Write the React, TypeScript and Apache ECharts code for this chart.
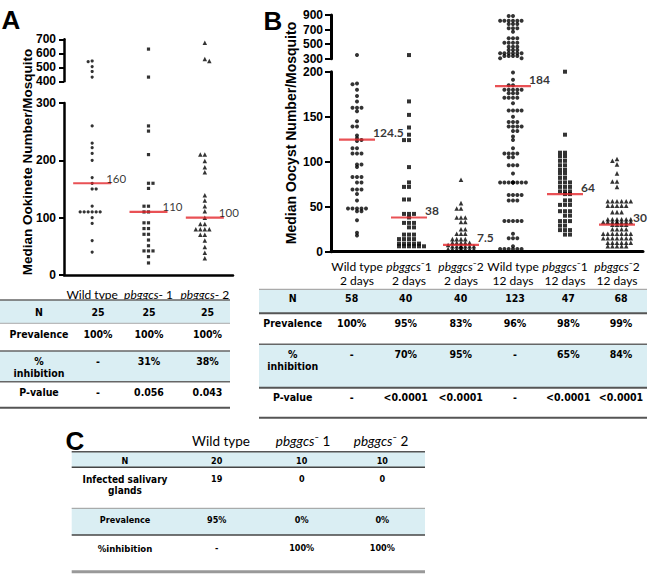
import React, { useEffect, useRef } from 'react';
import * as echarts from 'echarts';

// ---------------- Panel A data ----------------
const aCategories = ['Wild type', 'pbggcs- 1', 'pbggcs- 2'];
const aWildType = [545, 540, 505, 470, 430, 260, 230, 222, 212, 200, 170, 160, 150, 150, 120, 110, 110, 110, 110, 110, 110, 100, 90, 60, 40];
const aPbggcs1 = [630, 430, 260, 251, 210, 160, 160, 151, 120, 120, 110, 110, 91, 91, 81, 81, 71, 71, 61, 51, 42, 42, 42, 32, 21];
const aPbggcs2 = [676, 560, 545, 210, 210, 199, 188, 179, 139, 130, 120, 111, 100, 89, 89, 80, 80, 80, 80, 70, 70, 60, 49, 39, 29];
const aMedians = [160, 110, 100];
const aBottomTicks = [0, 300, 100];
const aTopTicks = [400, 700, 100];

const aRowLabels = ['N', 'Prevalence', '%\ninhibition', 'P-value'];
const aN = ['25', '25', '25'];
const aPrevalence = ['100%', '100%', '100%'];
const aInhibition = ['-', '31%', '38%'];
const aPValue = ['-', '0.056', '0.043'];

// ---------------- Panel B data ----------------
const bCategories = ['Wild type\n2 days', 'pbggcs⁻1\n2 days', 'pbggcs⁻2\n2 days', 'Wild type\n12 days', 'pbggcs⁻1\n12 days', 'pbggcs⁻2\n12 days'];
const bWildType2 = [350, 187, 186, 180, 173, 167, 160, 160, 160, 156, 145, 139, 139, 129, 126, 124, 123, 115, 115, 109, 109, 109, 97, 97, 94, 83, 83, 83, 77, 77, 69, 69, 69, 64, 57, 48, 48, 48, 48, 48, 45, 45, 35, 21, 18];
const bPbggcs1Day2 = [350, 167, 152, 138, 130, 124, 124, 94, 77, 72, 72, 58, 58, 42, 42, 42, 38, 32, 32, 32, 27, 27, 19, 19, 19, 14, 14, 14, 14, 9, 9, 9, 9, 9, 6, 6, 6, 6, 6, 6];
const bPbggcs2Day2 = [80, 54, 48, 48, 38, 38, 38, 33, 33, 25, 25, 20, 20, 20, 14, 14, 14, 14, 10, 10, 10, 10, 10, 7.5, 6, 6, 6, 6, 6, 6, 6, 6, 3, 3, 3, 3, 3, 3, 3, 3];
const bWildType12 = [
  886, 886, 822, 822, 822, 822, 822, 822, 776, 776, 776, 717, 717, 717, 671, 580, 580, 580, 520, 520, 520, 520,
  465, 465, 465, 420, 420, 420, 374, 374, 374, 374, 374, 374, 337, 337, 337, 337, 305, 305,
  199, 191, 185, 185, 180, 180, 180, 180, 180, 176, 176, 176, 171, 171, 171, 171, 165, 157, 157, 157, 157, 150,
  144, 144, 144, 139, 139, 139, 139, 134, 134, 128, 115, 124, 109, 109, 109, 109, 105, 105, 96, 96, 96, 87,
  77, 77, 77, 77, 77, 77, 77, 77, 77, 63, 63, 63, 63, 57, 57, 57, 34, 34, 34, 34, 34, 20, 15, 15, 15, 6,
  3, 3, 3, 3, 3, 3,
];
const bPbggcs1Day12 = [200, 130, 110, 110, 106, 106, 101, 101, 96, 96, 91, 91, 87, 87, 82, 82, 77, 77, 77, 72, 72, 72, 67, 67, 67, 64, 64, 57, 57, 52, 52, 52, 45, 45, 45, 40, 40, 34, 34, 34, 29, 29, 24, 24, 24, 19, 19];
const bPbggcs2Day12 = [
  103, 101, 97, 87, 78, 78, 72, 56, 56, 56, 56, 56, 56, 51, 51, 51, 51, 51, 44, 44, 44,
  36, 36, 36, 36, 36, 36, 33, 33, 33, 33, 33, 33, 33, 33, 30, 30, 30, 30, 25, 25, 25, 25,
  20, 20, 20, 20, 20, 20, 20, 15, 15, 15, 15, 15, 15, 15, 10, 10, 10, 10, 10, 10, 6, 6, 6, 6, 6,
];
const bMedians = [124.5, 38, 7.5, 184, 64, 30];
const bBottomTicks = [0, 200, 50];
const bTopTicks = [300, 900, 200];

const bRowLabels = ['N', 'Prevalence', '%\ninhibition', 'P-value'];
const bN = ['58', '40', '40', '123', '47', '68'];
const bPrevalence = ['100%', '95%', '83%', '96%', '98%', '99%'];
const bInhibition = ['-', '70%', '95%', '-', '65%', '84%'];
const bPValue = ['-', '<0.0001', '<0.0001', '-', '<0.0001', '<0.0001'];

// ---------------- Panel C data ----------------
const cColumns = ['Wild type', 'pbggcs⁻ 1', 'pbggcs⁻ 2'];
const cRowLabels = ['N', 'Infected salivary\nglands', 'Prevalence', '%inhibition'];
const cN = ['20', '10', '10'];
const cInfected = ['19', '0', '0'];
const cPrevalence = ['95%', '0%', '0%'];
const cInhibition = ['-', '100%', '100%'];

// ---------------- styling ----------------
const ARIAL = "'Liberation Sans', Arial, Helvetica, sans-serif";
const CAL = "Lato, 'Open Sans', 'Noto Sans', sans-serif";
const VERD = "'DejaVu Sans Condensed', 'DejaVu Sans', Verdana, sans-serif";
const BAND = '#DAEEF3';
const RED = '#e3262b';

const GA_TOP = { left: 64, top: 39.3, width: 169, height: 42 };
const GA_BOT = { left: 64, top: 103, width: 169, height: 172 };
const GB_TOP = { left: 331, top: 15, width: 312, height: 43.7 };
const GB_BOT = { left: 331, top: 71.7, width: 312, height: 180 };

// greedy beeswarm: horizontal offsets computed from the values' pixel positions
function swarm(vals: number[], ppu: number, gap: number, vgap: number, maxHalf: number) {
  const sorted = [...vals].sort((a, b) => b - a);
  const placed: { y: number; dx: number }[] = [];
  const out: { v: number; dx: number }[] = [];
  sorted.forEach((v, idx) => {
    const y = v * ppu;
    const near = placed.filter((p) => Math.abs(p.y - y) < vgap);
    let chosen = 0;
    for (let k = 0; k * gap <= maxHalf; k++) {
      const cands = k === 0 ? [0] : (idx % 2 === 0 ? [k * gap, -k * gap] : [-k * gap, k * gap]);
      const ok = cands.find((c) => near.every((p) => Math.abs(p.dx - c) >= gap - 0.01));
      if (ok !== undefined) { chosen = ok; break; }
    }
    placed.push({ y, dx: chosen });
    out.push({ v, dx: chosen });
  });
  return out;
}

function dots(axisIdx: number, cat: number, vals: number[], symbol: string, size: number, ppu: number, gap: number, vgap: number, maxHalf: number) {
  const data = swarm(vals, ppu, gap, vgap, maxHalf).map((p) => ({ value: [cat, p.v], symbolOffset: [p.dx, 0] }));
  return {
    type: 'scatter', xAxisIndex: axisIdx, yAxisIndex: axisIdx, symbol, symbolSize: size,
    itemStyle: { color: '#000' }, data, silent: true, z: 3,
  };
}

function catFmt(line: string) {
  if (line.startsWith('pbggcs')) return `{i|pbggcs}{n|${line.slice(6)}}`;
  return `{n|${line}}`;
}

function yAxisCfg(idx: number, ticks: number[], margin: number, tickLen: number, width: number) {
  return {
    gridIndex: idx, type: 'value', min: ticks[0], max: ticks[1], interval: ticks[2],
    axisLine: { show: true, lineStyle: { color: '#000', width } },
    axisTick: { show: true, length: tickLen, lineStyle: { color: '#000', width: 2 } },
    axisLabel: { margin, fontFamily: ARIAL, fontWeight: 'bold', fontSize: 12, color: '#000' },
    splitLine: { show: false },
  };
}

function txt(x: number, y: number, text: string, extra: any = {}) {
  return {
    type: 'text', x, y, z: 20, silent: true,
    style: {
      text, fill: '#000', fontFamily: VERD, fontWeight: 'bold', fontSize: 10.5,
      align: 'center', verticalAlign: 'middle', textAlign: 'center', textVerticalAlign: 'middle',
      ...extra,
    },
  };
}
function band(x0: number, x1: number, y0: number, y1: number) {
  return { type: 'rect', z: 1, silent: true, shape: { x: x0, y: y0, width: x1 - x0, height: y1 - y0 }, style: { fill: BAND } };
}
function hline(x0: number, x1: number, y: number, color: string, w: number) {
  return { type: 'line', z: 5, silent: true, shape: { x1: x0, y1: y, x2: x1, y2: y }, style: { stroke: color, lineWidth: w } };
}

function table(
  x0: number, x1: number, labelX: number, colX: number[],
  bands: number[][], lines: [number, string, number][],
  labels: string[], labelY: number[], labelFs: number[], rows: string[][], rowY: number[], fs: number, lh: number,
) {
  const els: any[] = [];
  bands.forEach((b) => els.push(band(x0, x1, b[0], b[1])));
  lines.forEach((l) => els.push(hline(x0, x1, l[0], l[1], l[2])));
  labels.forEach((t, i) => els.push(txt(labelX, labelY[i], t, { fontSize: labelFs[i], lineHeight: lh })));
  rows.forEach((r, i) => r.forEach((v, j) => els.push(txt(colX[j], rowY[i], v, { fontSize: fs }))));
  return els;
}

function buildOption() {
  const richA = {
    n: { fontFamily: CAL, fontSize: 12, color: '#000' },
    i: { fontFamily: CAL, fontSize: 12, fontStyle: 'italic', color: '#000' },
  };
  const richB = {
    n: { fontFamily: CAL, fontSize: 12, color: '#000', lineHeight: 14 },
    i: { fontFamily: CAL, fontSize: 12, fontStyle: 'italic', color: '#000', lineHeight: 14 },
  };
  const ppuAT = GA_TOP.height / (aTopTicks[1] - aTopTicks[0]);
  const ppuAB = GA_BOT.height / (aBottomTicks[1] - aBottomTicks[0]);
  const ppuBT = GB_TOP.height / (bTopTicks[1] - bTopTicks[0]);
  const ppuBB = GB_BOT.height / (bBottomTicks[1] - bBottomTicks[0]);
  const aBreak = aBottomTicks[1];
  const bBreak = bBottomTicks[1];
  const hi = (v: number[], b: number) => v.filter((x) => x > b);
  const lo = (v: number[], b: number) => v.filter((x) => x <= b);

  const aGroups = [aWildType, aPbggcs1, aPbggcs2];
  const aSyms = ['circle', 'rect', 'triangle'];
  const aSizes = [3.2, 3.2, 4.5];
  const aGaps = [4, 4.5, 4.5];
  const bGroups = [bWildType2, bPbggcs1Day2, bPbggcs2Day2, bWildType12, bPbggcs1Day12, bPbggcs2Day12];
  const bSyms = ['circle', 'rect', 'triangle', 'circle', 'rect', 'triangle'];
  const bSizes = [4, 4, 4.6, 4, 4, 4.6];
  const bGaps = [4.5, 5, 4.3, 4.3, 5, 4.6];

  const series: any[] = [];
  aGroups.forEach((g, i) => {
    series.push(dots(0, i, hi(g, aBreak), aSyms[i], aSizes[i], ppuAT, aGaps[i], 2.5, 14));
    series.push(dots(1, i, lo(g, aBreak), aSyms[i], aSizes[i], ppuAB, aGaps[i], 2.5, 14));
  });
  bGroups.forEach((g, i) => {
    series.push(dots(2, i, hi(g, bBreak), bSyms[i], bSizes[i], ppuBT, bGaps[i], 2.5, 17));
    series.push(dots(3, i, lo(g, bBreak), bSyms[i], bSizes[i], ppuBB, bGaps[i], 2.5, 17));
  });
  series.push({
    type: 'scatter', xAxisIndex: 1, yAxisIndex: 1, symbol: 'rect', symbolSize: [38, 2.2], z: 6, silent: true,
    itemStyle: { color: RED },
    label: { show: true, position: 'right', distance: 0, offset: [-5, -5], formatter: (p: any) => String(p.value[1]), fontFamily: CAL, fontSize: 11.5, color: '#000' },
    data: aMedians.map((m, i) => [i, m]),
  });
  series.push({
    type: 'scatter', xAxisIndex: 3, yAxisIndex: 3, symbol: 'rect', symbolSize: [36, 2.2], z: 6, silent: true,
    itemStyle: { color: RED },
    label: { show: true, position: 'right', distance: 0, offset: [-2, -7], formatter: (p: any) => String(p.value[1]), fontFamily: CAL, fontWeight: 'bold', fontSize: 12, color: '#000' },
    data: bMedians.map((m, i) => [i, m]),
  });

  const graphic: any[] = [];
  graphic.push(txt(11, 20, 'A', { fontFamily: ARIAL, fontSize: 26 }));
  graphic.push(txt(273, 21, 'B', { fontFamily: ARIAL, fontSize: 26 }));
  graphic.push(txt(75, 441, 'C', { fontFamily: ARIAL, fontSize: 26 }));
  graphic.push({ ...txt(27, 162, 'Median Ookinete Number/Mosquito', { fontFamily: ARIAL, fontSize: 13.5 }), rotation: Math.PI / 2 });
  graphic.push({ ...txt(291, 133, 'Median Oocyst Number/Mosquito', { fontFamily: ARIAL, fontSize: 14 }), rotation: Math.PI / 2 });

  graphic.push(...table(0, 230, 39, [98, 149, 207.5],
    [[300, 323.3], [351, 381.7]],
    [[300, '#666', 1.5], [323.3, '#aaa', 1], [351, '#666', 1.5], [381.7, '#666', 1.5], [407.7, '#555', 2]],
    aRowLabels, [311.5, 334, 366.7, 392], [10.5, 10.5, 10.5, 10.5],
    [aN, aPrevalence, aInhibition, aPValue], [311.5, 334, 360.7, 392], 10.5, 12));

  graphic.push(...table(259, 647, 292.7, [351.7, 405.7, 460.7, 515, 568.3, 621],
    [[289.3, 313.3], [344.3, 387.7]],
    [[289.3, '#aaa', 1.2], [313.3, '#555', 2], [344.3, '#666', 1.5], [387.7, '#555', 2], [417.7, '#555', 2]],
    bRowLabels, [298, 323.3, 360, 397], [10.5, 10.5, 10.5, 10.5],
    [bN, bPrevalence, bInhibition, bPValue], [298, 323.3, 354, 397], 10.5, 12));

  graphic.push(...table(71.7, 425, 125, [216.7, 301.7, 382.3],
    [[451.7, 467.3], [508.3, 535]],
    [[451.7, '#555', 1.5], [467.3, '#444', 1.5], [508.3, '#999', 1], [535, '#444', 1.5], [571.7, '#999', 3]],
    cRowLabels, [460.7, 485, 520, 548.3], [9, 10, 9, 9.5],
    [cN, cInfected, cPrevalence, cInhibition], [460.7, 479.3, 520, 548.3], 9, 11.4));
  [221, 303, 381].forEach((x, i) => {
    const c = cColumns[i];
    const t = c.startsWith('pbggcs') ? `{i|pbggcs}{n|${c.slice(6)}}` : `{n|${c}}`;
    graphic.push(txt(x, 440.7, t, {
      fontFamily: CAL, fontWeight: 'normal', fontSize: 13.5,
      rich: { n: { fontFamily: CAL, fontSize: 13.5, fill: '#000' }, i: { fontFamily: CAL, fontSize: 13.5, fontStyle: 'italic', fill: '#000' } },
    }));
  });

  return {
    animation: false,
    backgroundColor: '#fff',
    grid: [GA_TOP, GA_BOT, GB_TOP, GB_BOT],
    xAxis: [
      { gridIndex: 0, type: 'category', data: aCategories, show: false },
      {
        gridIndex: 1, type: 'category', data: aCategories, boundaryGap: true,
        axisLine: { lineStyle: { color: '#000', width: 2.5 } },
        axisTick: { alignWithLabel: true, length: 5, lineStyle: { color: '#000', width: 2 } },
        axisLabel: { interval: 0, margin: 13, formatter: (v: string) => catFmt(v), rich: richA },
      },
      { gridIndex: 2, type: 'category', data: bCategories, show: false },
      {
        gridIndex: 3, type: 'category', data: bCategories, boundaryGap: true,
        axisLine: { lineStyle: { color: '#000', width: 3 } },
        axisTick: { alignWithLabel: true, length: 5, lineStyle: { color: '#000', width: 2 } },
        axisLabel: { interval: 0, margin: 8, formatter: (v: string) => v.split('\n').map(catFmt).join('\n'), rich: richB },
      },
    ],
    yAxis: [
      yAxisCfg(0, aTopTicks, 8, 5, 2.5),
      yAxisCfg(1, aBottomTicks, 8, 5, 2.5),
      yAxisCfg(2, bTopTicks, 8, 6, 3),
      yAxisCfg(3, bBottomTicks, 8, 6, 3),
    ],
    series,
    graphic: { elements: graphic },
  };
}

export default function App() {
  const ref = useRef<HTMLDivElement>(null);
  useEffect(() => {
    const chart = echarts.init(ref.current!, null, { renderer: 'svg' });
    chart.setOption(buildOption() as any);
    return () => chart.dispose();
  }, []);
  return <div ref={ref} style={{ position: 'fixed', left: 0, top: 0, width: 661, height: 574, background: '#fff' }} />;
}
